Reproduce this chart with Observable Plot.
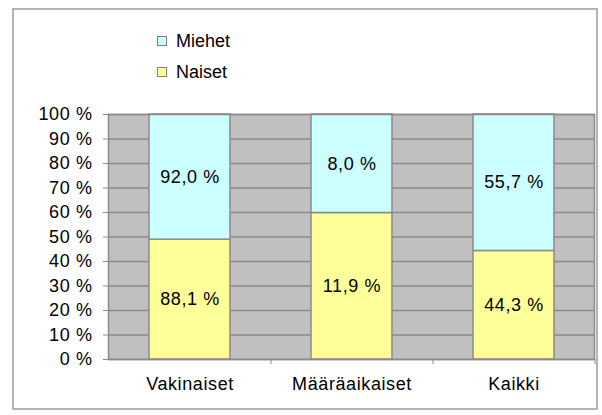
<!DOCTYPE html>
<html><head><meta charset="utf-8">
<script src="https://cdn.jsdelivr.net/npm/d3@7"></script>
<script src="https://cdn.jsdelivr.net/npm/@observablehq/plot@0.6"></script>
<style>
body{margin:0;background:#fff;}
#wrap{position:relative;width:602px;height:415px;font-family:"Liberation Sans",Arial,sans-serif;overflow:hidden;}
#wrap svg{position:absolute;left:0;top:0;letter-spacing:0.6px;}
#frame{position:absolute;left:12px;top:8px;width:582px;height:398px;border:2px solid #b4b4b4;pointer-events:none;}
.leg{position:absolute;left:157px;height:20px;font-size:18px;display:flex;align-items:center;color:#000;}
.sw{width:8px;height:8px;border:1px solid #808080;margin-right:9px;}
</style>
</head><body>
<div id="wrap"><div id="frame"></div>
<div class="leg" id="leg0" style="top:31px"></div>
<div class="leg" id="leg1" style="top:62px"></div>
</div>
<script>
const categories = ["Vakinaiset", "Määräaikaiset", "Kaikki"];
const seriesNames = ["Naiset", "Miehet"];
const naiset = [88.1, 11.9, 44.3];
const miehet = [92.0, 8.0, 55.7];
const yTicks = [0, 10, 20, 30, 40, 50, 60, 70, 80, 90, 100];
const colors = ["#ffff99", "#ccffff"];

const data = [];
categories.forEach((c, i) => data.push({cat: c, series: "Naiset", value: naiset[i]}));
categories.forEach((c, i) => data.push({cat: c, series: "Miehet", value: miehet[i]}));

const fmt = v => v.toFixed(1).replace(".", ",") + " %";
const font = '"Liberation Sans", Arial, sans-serif';

const plot = Plot.plot({
  width: 602, height: 415,
  marginLeft: 108, marginRight: 8, marginTop: 114, marginBottom: 56,
  style: {background: "transparent", fontFamily: font, fontSize: "18px", color: "black"},
  x: {domain: categories, paddingInner: 0.5, paddingOuter: 0.25, label: null},
  y: {domain: [0, 1], label: null},
  color: {domain: seriesNames, range: colors},
  marks: [
    Plot.frame({fill: "#c0c0c0"}),
    Plot.ruleY(yTicks.map(d => d / 100), {stroke: "#8a8a8a", strokeWidth: 1.5}),
    Plot.barY(data, Plot.stackY({x: "cat", y: "value", z: "series", fill: "series", offset: "normalize", stroke: "#8a8a8a", strokeWidth: 1.5})),
    Plot.text(data, Plot.stackY({x: "cat", y: "value", z: "series", offset: "normalize", text: d => fmt(d.value), fill: "black"})),
    Plot.frame({stroke: "#8a8a8a", strokeWidth: 1.5}),
    Plot.axisY(yTicks.map(d => d / 100), {tickSize: 5, tickPadding: 11, tickFormat: d => Math.round(d * 100) + " %", label: null, stroke: "#8a8a8a", fill: "black"}),
    Plot.axisX({tickSize: 0, tickPadding: 18, label: null, fill: "black"}),
    Plot.axisX({tickSize: 5, dx: 81, tickFormat: () => "", label: null, stroke: "#8a8a8a"})
  ]
});
document.getElementById("wrap").insertBefore(plot, document.getElementById("frame"));

// legend (Miehet above Naiset)
[["leg0", 1], ["leg1", 0]].forEach(([id, si]) => {
  const el = document.getElementById(id);
  el.innerHTML = `<span class="sw" style="background:${colors[si]}"></span><span>${seriesNames[si]}</span>`;
});
</script>
</body></html>
